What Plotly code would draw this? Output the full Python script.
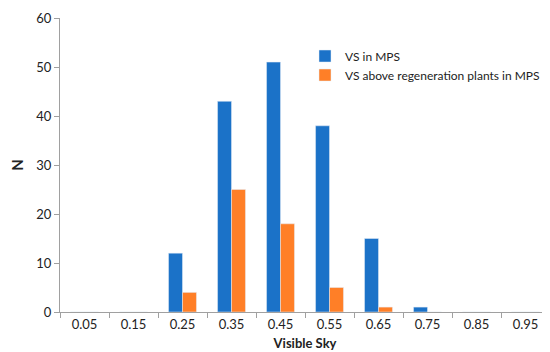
import plotly.graph_objects as go

categories = ["0.05", "0.15", "0.25", "0.35", "0.45", "0.55", "0.65", "0.75", "0.85", "0.95"]
vs_mps = [0, 0, 12, 43, 51, 38, 15, 1, 0, 0]
vs_regen = [0, 0, 4, 25, 18, 5, 1, 0, 0, 0]
y_ticks = [0, 10, 20, 30, 40, 50, 60]

font_family = "Lato, Open Sans, sans-serif"

fig = go.Figure()
fig.add_trace(go.Bar(x=categories, y=vs_mps, name="VS in MPS", marker_color="#1B72C8"))
fig.add_trace(go.Bar(x=categories, y=vs_regen, name="VS above regeneration plants in MPS", marker_color="#FF7F27"))

fig.update_layout(
    width=550, height=352,
    margin=dict(l=52, r=8, t=10, b=48, autoexpand=False),
    paper_bgcolor="white", plot_bgcolor="white",
    barmode="group", bargap=0.43, bargroupgap=0,
    font=dict(family=font_family, size=13, color="#222"),
    legend=dict(x=0.50, y=0.92, xanchor="left", yanchor="top",
                bgcolor="rgba(0,0,0,0)", font=dict(size=12, color="#222"),
                itemwidth=30, tracegroupgap=4),
    showlegend=True,
)
fig.update_xaxes(
    type="category", tickson="boundaries", ticks="outside", ticklen=5,
    tickcolor="#A0A0A0", showline=True, linecolor="#A0A0A0", linewidth=1,
    showgrid=False, tickfont=dict(size=13, color="#222"), automargin=False,
    title=dict(text="<b>Visible Sky</b>", font=dict(size=13, color="#222"), standoff=8),
)
fig.update_yaxes(
    range=[0, 60], tickvals=y_ticks, ticks="outside", ticklen=5,
    tickcolor="#A0A0A0", showline=True, linecolor="#A0A0A0", linewidth=1,
    showgrid=False, zeroline=False, tickfont=dict(size=13, color="#222"), automargin=False,
    title=dict(text="<b>N</b>", font=dict(size=15, color="#222"), standoff=10),
)

fig.write_html("out.html")
